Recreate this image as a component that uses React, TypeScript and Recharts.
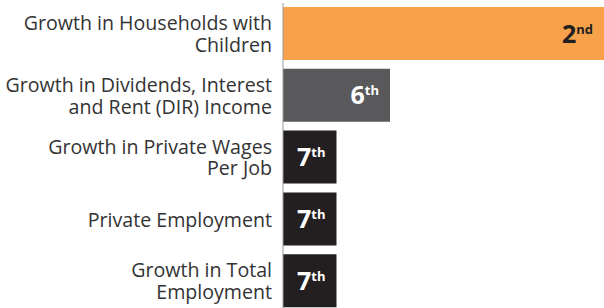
import React from "react";
import { BarChart, Bar, XAxis, YAxis, Cell, LabelList } from "recharts";

const categoryLines: string[][] = [
  ["Growth in Households with", "Children"],
  ["Growth in Dividends, Interest", "and Rent (DIR) Income"],
  ["Growth in Private Wages", "Per Job"],
  ["Private Employment"],
  ["Growth in Total", "Employment"],
];
const values = [6, 2, 1, 1, 1];
const ranks = ["2", "6", "7", "7", "7"];
const suffixes = ["nd", "th", "th", "th", "th"];
const colors = ["#F7A24B", "#59595B", "#231F20", "#231F20", "#231F20"];
const labelColors = ["#231F20", "#FFFFFF", "#FFFFFF", "#FFFFFF", "#FFFFFF"];
const xTicks = [0, 1, 2, 3, 4, 5, 6];

const data = categoryLines.map((lines, i) => ({
  name: lines.join(" "),
  value: values[i],
  idx: i,
}));

const FONT = "'Open Sans', 'Noto Sans', sans-serif";

const CategoryTick = (props: any) => {
  const { x, y, payload } = props;
  const i = data.findIndex((d) => d.name === payload.value);
  const lines = categoryLines[i] || [payload.value];
  const lh = 21.7;
  const start = lines.length === 1 ? 8 : 7 - (lh * (lines.length - 1)) / 2;
  return (
    <text x={x} y={y + start} textAnchor="end" fill="#333333" fontSize={19.6} fontFamily={FONT}>
      {lines.map((l, k) => (
        <tspan key={k} x={x} dy={k === 0 ? 0 : lh}>
          {l}
        </tspan>
      ))}
    </text>
  );
};

const RankLabel = (props: any) => {
  const { x, y, width, height, index } = props;
  return (
    <text
      x={x + width - 11}
      y={y + height / 2 + 9}
      textAnchor="end"
      fontFamily={FONT}
      fontWeight={700}
      fill={labelColors[index]}
    >
      <tspan fontSize={25}>{ranks[index]}</tspan>
      <tspan fontSize={13} dy={-9}>
        {suffixes[index]}
      </tspan>
    </text>
  );
};

export default function App() {
  return (
    <div style={{ position: "absolute", left: 0, top: 0, width: 604, height: 308, overflow: "hidden", background: "#fff" }}>
      <BarChart
        width={604}
        height={312}
        data={data}
        layout="vertical"
        margin={{ top: 3, right: 0, bottom: 0, left: 0 }}
      >
        <XAxis type="number" domain={[0, 6]} ticks={xTicks} hide />
        <YAxis
          type="category"
          dataKey="name"
          width={283}
          tickLine={false}
          tickSize={0}
          tickMargin={11}
          axisLine={{ stroke: "#9a9a9a" }}
          tick={<CategoryTick />}
          interval={0}
        />
        <Bar dataKey="value" barSize={53} isAnimationActive={false}>
          {data.map((d, i) => (
            <Cell key={i} fill={colors[i]} />
          ))}
          <LabelList dataKey="value" content={<RankLabel />} />
        </Bar>
      </BarChart>
    </div>
  );
}
